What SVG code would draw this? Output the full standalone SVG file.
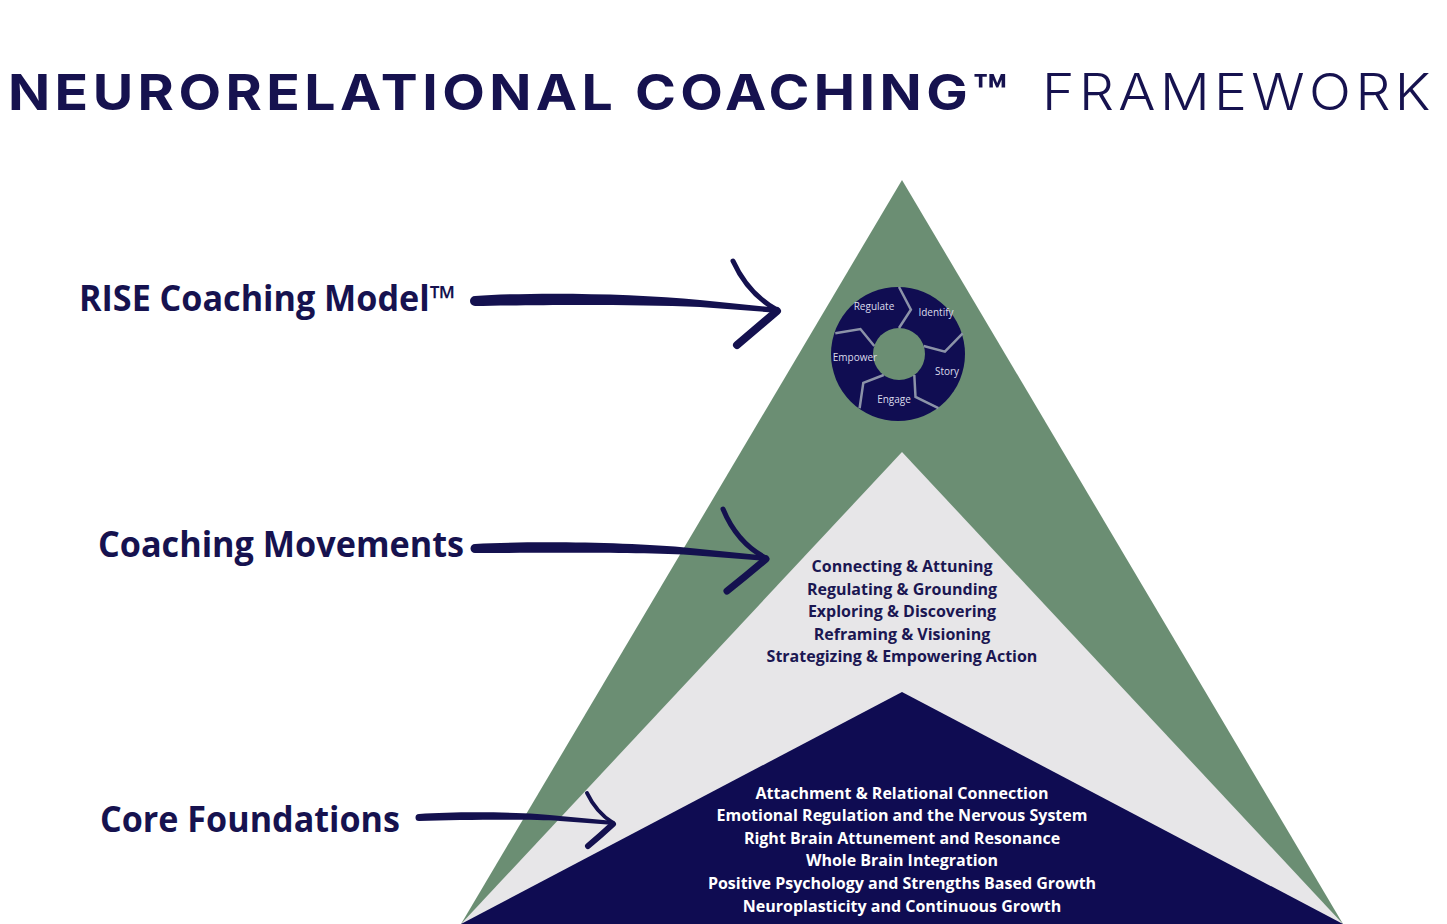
<svg xmlns="http://www.w3.org/2000/svg" width="1447" height="924" viewBox="0 0 1447 924">
<style>
.title{font-family:"Inter","Liberation Sans",sans-serif;fill:#16124f;letter-spacing:4px}
.lbl{font-family:"Open Sans","Liberation Sans",sans-serif;font-weight:700;font-size:35px;fill:#16124f}
.mv{font-family:"Open Sans","Liberation Sans",sans-serif;font-weight:700;font-size:16px;fill:#1b1752;text-anchor:middle}
.cf{font-family:"Open Sans","Liberation Sans",sans-serif;font-weight:700;font-size:16px;fill:#ffffff;text-anchor:middle}
.wl{font-family:"Open Sans","Liberation Sans",sans-serif;font-size:10px;fill:#dcdcec;text-anchor:middle}
.brush{fill:none;stroke:#14114f;stroke-linecap:round;stroke-linejoin:round}
.shaft{fill:#14114f}
.sep{fill:none;stroke:#8c93a8;stroke-width:2.5;stroke-linejoin:miter}
</style>
<rect width="1447" height="924" fill="#ffffff"/>
<g id="title">
<text class="title" x="8" y="110" font-size="50" font-weight="700" textLength="1004" lengthAdjust="spacingAndGlyphs">NEURORELATIONAL COACHING™</text>
<text class="title" x="1042" y="110" font-size="50" font-weight="300" textLength="393" lengthAdjust="spacingAndGlyphs">FRAMEWORK</text>
</g>
<g id="pyramid">
<polygon id="layer-rise" points="902,180 1343,924 461,924" fill="#6b8e73"/>
<polygon id="layer-movements" points="902,452 1343,924 461,924" fill="#e7e6e8"/>
<polygon id="layer-core" points="902,692 1343,924 461,924" fill="#0f0c52"/>
</g>
<g id="rise-wheel">
<circle cx="898" cy="354" r="67" fill="#100d52"/>
<circle cx="899" cy="354" r="26" fill="#6b8e73"/>
<polyline class="sep" points="899,328 910.9,309.6 899,287"/>
<polyline class="sep" points="923.7,346 944.9,351.6 962.7,333.3"/>
<polyline class="sep" points="914.3,375 915.5,396.9 938.4,408.2"/>
<polyline class="sep" points="883.7,375 863.3,382.9 859.6,408.2"/>
<polyline class="sep" points="874.3,346 860.4,329 835.3,333.3"/>
<text class="wl" x="874" y="310">Regulate</text>
<text class="wl" x="936" y="316">Identify</text>
<text class="wl" x="947" y="375">Story</text>
<text class="wl" x="894" y="403">Engage</text>
<text class="wl" x="855" y="361">Empower</text>
</g>
<g id="movements-text">
<text class="mv" x="902" y="572">Connecting &amp; Attuning</text>
<text class="mv" x="902" y="595">Regulating &amp; Grounding</text>
<text class="mv" x="902" y="617">Exploring &amp; Discovering</text>
<text class="mv" x="902" y="640">Reframing &amp; Visioning</text>
<text class="mv" x="902" y="662">Strategizing &amp; Empowering Action</text>
</g>
<g id="core-text">
<text class="cf" x="902" y="799">Attachment &amp; Relational Connection</text>
<text class="cf" x="902" y="821">Emotional Regulation and the Nervous System</text>
<text class="cf" x="902" y="844">Right Brain Attunement and Resonance</text>
<text class="cf" x="902" y="866">Whole Brain Integration</text>
<text class="cf" x="902" y="889">Positive Psychology and Strengths Based Growth</text>
<text class="cf" x="902" y="912">Neuroplasticity and Continuous Growth</text>
</g>
<g id="label-rise"><text class="lbl" x="79" y="311" textLength="377" lengthAdjust="spacingAndGlyphs">RISE Coaching Model™</text></g>
<g id="label-movements"><text class="lbl" x="98" y="557" textLength="366" lengthAdjust="spacingAndGlyphs">Coaching Movements</text></g>
<g id="label-core"><text class="lbl" x="100" y="832" textLength="300" lengthAdjust="spacingAndGlyphs">Core Foundations</text></g>
<g id="connectors">
<path class="shaft" d="M475,296 C530,292 630,293 700,300 L779,308 L779,313 L700,307 C630,304 530,305 475,306 A5,5 0 0 1 475,296 Z"/>
<path class="brush" stroke-width="5" d="M733,261 Q748,294 777,310"/>
<path class="brush" stroke-width="8" d="M777,311 Q757,328 737,345"/>
<path class="shaft" d="M475,544 C530,541 630,542 690,548 L768,556 L768,561 L690,555 C630,552 530,553 475,553 A4.5,4.5 0 0 1 475,544 Z"/>
<path class="brush" stroke-width="5" d="M723,509 Q737,543 766,558"/>
<path class="brush" stroke-width="7" d="M766,559 Q746,576 727,591"/>
<path class="shaft" d="M419,814 C460,811 530,812 560,816 L614,821 L614,825 L560,821 C530,819 460,820 419,821 A3.5,3.5 0 0 1 419,814 Z"/>
<path class="brush" stroke-width="4" d="M587,793 Q596,812 613,823"/>
<path class="brush" stroke-width="6" d="M613,824 Q600,836 588,846"/>
</g>
</svg>
